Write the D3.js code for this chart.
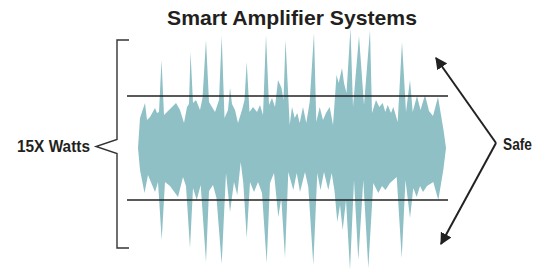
<!DOCTYPE html>
<html><head><meta charset="utf-8">
<script src="https://cdn.jsdelivr.net/npm/d3@7"></script>
<style>html,body{margin:0;padding:0;background:#fff;}svg{display:block;}</style>
</head><body>
<svg id="chart" width="537" height="271"></svg>
<script>
// ---- data (time units, amplitude units; safe limit = ±52) ----
const title = "Smart Amplifier Systems";
const leftLabel = "15X Watts";
const rightLabel = "Safe";
const safeLimit = 52;
const upperT = [1,3,8,10,13,18,20,22,24.5,27,32,39,43,47,50,52,53.5,56,59,63,65.5,69,72,75,78,82,84.7,87.5,91,93,95,98,101,105,107.5,109.7,112.5,116,120,123,126,129,132,135,138,141,144.5,146.5,148.5,152.7,155,157.7,160.3,162.7,166,169.3,172.7,177,179.3,182.7,186,189,192.7,196,199.5,201.7,205,207,209.5,213.5,216,222,227,233,235,239,242.3,245.7,248.3,250.7,254,256.3,260.7,265,269,273,275.7,280,283.5,288,292,296,301,304,306.5,309];
const upperV = [0,30,45,28,31,40,35,36,88,33,38,45,38,25,41,44,96,45,48,38,50,108,46,41,36,48,112,30,38,60,44,38,25,38,48,86,36,41,36,43,33,113,43,50,41,68,60,48,108,23,41,30,35,25,41,25,46,115,26,41,28,35,41,23,73,65,80,65,55,120,41,112,43,118,35,48,41,45,36,43,35,41,26,106,36,68,36,52,38,53,37,32,51,33,18,0];
const lowerT = [1,3,7.5,11,18,21,24.7,28,33,41,46,49,53,56,59.7,63.7,69,72,76,79.5,84.7,89,93,97,100.3,103.7,106.3,109.7,113,117,121,125,129.7,133,137,141.3,144.3,148,151.3,156.3,159.7,163,168,171.3,176.3,180.3,183.5,187,191.3,194.7,197.5,200.3,203,205.7,209,213,217,221.3,226.3,231.3,236.3,241.3,245,248.5,253,259.7,264.7,268.5,273,276.3,279.7,283,286,290,296.3,301.3,306.3,309];
const lowerV = [0,-22,-45,-27,-44,-34,-92,-34,-38,-49,-29,-38,-100,-40,-52,-37,-114,-43,-37,-50,-116,-25,-64,-34,-47,-14,-35,-90,-34,-44,-34,-45,-115,-35,-25,-69,-50,-110,-24,-42,-25,-44,-24,-39,-117,-25,-42,-24,-42,-25,-43,-74,-57,-82,-52,-122,-32,-112,-32,-120,-35,-45,-38,-42,-35,-29,-110,-32,-70,-40,-49,-38,-44,-38,-34,-52,-22,0];

const svg = d3.select("#chart");
const x = d3.scaleLinear().domain([0, 310]).range([137, 447]);
const y = d3.scaleLinear().domain([-100, 100]).range([248, 48]);

// waveform polygon: upper left->right, lower right->left
const upper = upperT.map((t, i) => [t, upperV[i]]);
const lower = lowerT.map((t, i) => [t, lowerV[i]]).reverse();
const poly = upper.concat(lower);
svg.append("path")
  .attr("d", d3.line().x(d => x(d[0])).y(d => y(d[1]))(poly) + "Z")
  .attr("fill", "#8ec0c6");

// safe limit lines
[safeLimit, -safeLimit].forEach(v => {
  svg.append("line")
    .attr("x1", x(-10)).attr("x2", x(311))
    .attr("y1", y(v)).attr("y2", y(v))
    .attr("stroke", "#222").attr("stroke-width", 1.6);
});

// bracket on left
const bx = 117, bTop = y(108), bBot = y(-100), mid = y(1.5);
svg.append("path")
  .attr("d", `M${bx+12},${bTop}H${bx}V${mid-7}L${bx-21},${mid}L${bx},${mid+7}V${bBot}H${bx+12}`)
  .attr("fill", "none").attr("stroke", "#333").attr("stroke-width", 1.4);

// arrows on right
const defs = svg.append("defs");
defs.append("marker").attr("id", "ah")
  .attr("viewBox", "0 0 10 10").attr("refX", 9).attr("refY", 5)
  .attr("markerWidth", 6).attr("markerHeight", 6).attr("orient", "auto")
  .attr("markerUnits", "strokeWidth")
  .append("path").attr("d", "M0,0L10,5L0,10Z").attr("fill", "#222");
const vx = 496, vy = y(5);
[[436, y(90)], [441, y(-96)]].forEach(([tx, ty]) => {
  svg.append("line").attr("x1", vx).attr("y1", vy).attr("x2", tx).attr("y2", ty)
    .attr("stroke", "#222").attr("stroke-width", 2).attr("marker-end", "url(#ah)");
});

// texts
function fitText(str, tx, ty, size, family, targetW, anchor) {
  const t = svg.append("text").text(str)
    .attr("x", 0).attr("y", 0)
    .attr("font-family", family).attr("font-weight", "bold").attr("font-size", size)
    .attr("fill", "#231f20").attr("text-anchor", anchor || "start");
  const w = t.node().getComputedTextLength();
  const sx = w > 0 ? targetW / w : 1;
  t.attr("transform", `translate(${tx},${ty}) scale(${sx},1)`);
  return t;
}
fitText(title, 292, 25, 21, "'Liberation Sans', Arial, sans-serif", 250, "middle");
const narrow = "'Liberation Sans Narrow', 'Arial Narrow', 'Liberation Sans', sans-serif";
fitText(leftLabel, 17, 152, 17, narrow, 73);
fitText(rightLabel, 503, 149.5, 17, narrow, 29);
</script>
</body></html>
